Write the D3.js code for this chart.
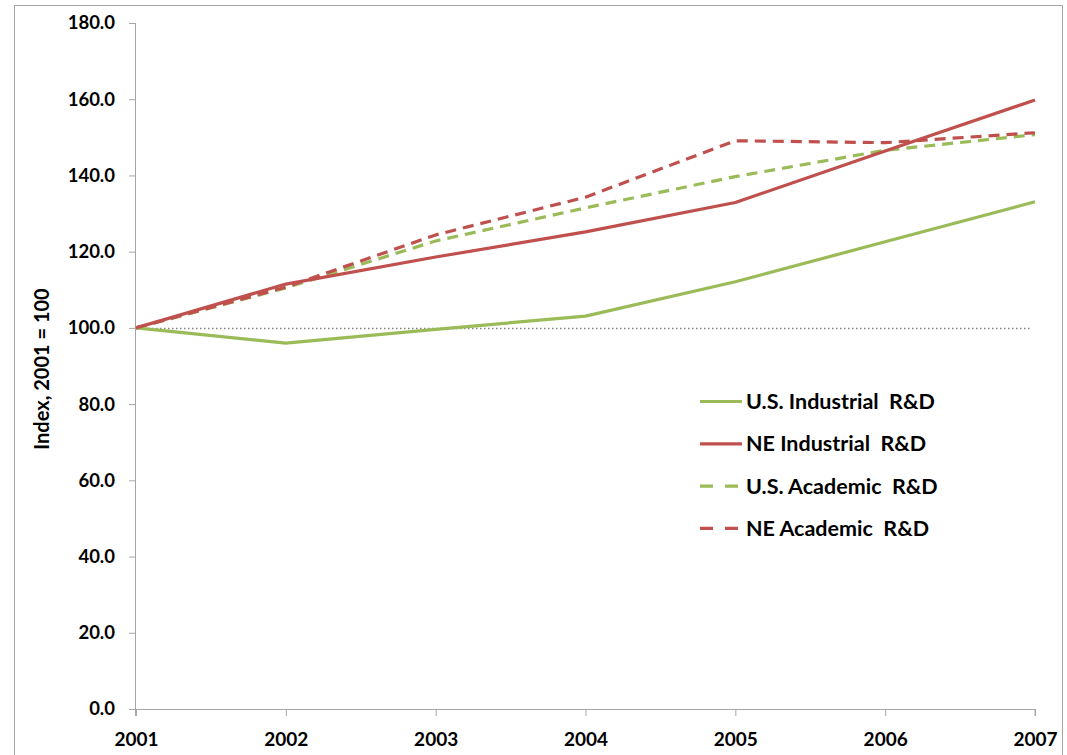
<!DOCTYPE html>
<html>
<head>
<meta charset="utf-8">
<script src="https://cdn.jsdelivr.net/npm/d3@7"></script>
<style>
  body { margin: 0; background: #fff; }
  svg text { font-family: Lato, "Open Sans", sans-serif; font-weight: bold; fill: #000; white-space: pre; }
</style>
</head>
<body>
<svg width="1067" height="755"></svg>
<script>
// data
const years = ['2001', '2002', '2003', '2004', '2005', '2006', '2007'];
const usIndustrial = [100, 96.0, 99.6, 103.1, 112.1, 122.6, 133.1];
const neIndustrial = [100, 111.5, 118.6, 125.2, 132.9, 146.4, 159.8];
const usAcademic   = [100, 110.5, 122.8, 131.5, 139.7, 146.6, 150.7];
const neAcademic   = [100, 110.7, 124.4, 134.3, 149.1, 148.6, 151.2];
const yTicks = [0, 20, 40, 60, 80, 100, 120, 140, 160, 180];

const series = [
  {name: 'U.S. Industrial  R&D', values: usIndustrial, color: '#9bbb59', dash: null},
  {name: 'NE Industrial  R&D', values: neIndustrial, color: '#c0504d', dash: null},
  {name: 'U.S. Academic  R&D', values: usAcademic, color: '#9bbb59', dash: '11,7'},
  {name: 'NE Academic  R&D', values: neAcademic, color: '#c0504d', dash: '11,7'}
];

var svg = d3.select('svg'),
    margin = {top: 23, right: 32, bottom: 46, left: 136},
    width = 1067 - margin.left - margin.right,
    height = 755 - margin.top - margin.bottom;

// outer chart frame
svg.append('rect')
  .attr('x', 14.5).attr('y', 5.5)
  .attr('width', 1048).attr('height', 800)
  .attr('fill', 'none').attr('stroke', '#a6a6a6').attr('stroke-width', 1);

var g = svg.append('g').attr('transform', `translate(${margin.left}, ${margin.top})`);

var x = d3.scalePoint().domain(years).range([0, width]);
var y = d3.scaleLinear().domain([0, 180]).range([height, 0]);

// y axis
var yAxis = g.append('g')
  .call(d3.axisLeft(y).tickValues(yTicks).tickSize(7).tickPadding(14).tickFormat(d3.format('.1f')));
yAxis.select('.domain').attr('stroke', '#a6a6a6').attr('d', `M-0.5,${height + 7}V0.5H-7`);
yAxis.selectAll('line').attr('stroke', '#a6a6a6');
yAxis.selectAll('text').style('font-size', '18.5px');

// x axis
var xAxis = g.append('g')
  .attr('transform', `translate(0,${height})`)
  .call(d3.axisBottom(x).tickSize(7).tickPadding(17));
xAxis.select('.domain').attr('stroke', '#a6a6a6').attr('d', `M0,0.5H${width}V7`);
xAxis.selectAll('line').attr('stroke', '#a6a6a6');
xAxis.selectAll('text').style('font-size', '19px');

// y label
svg.append('text')
  .attr('transform', `translate(49, ${margin.top + height / 2 + 3}) rotate(-90)`)
  .attr('text-anchor', 'middle')
  .style('font-size', '20px')
  .text('Index, 2001 = 100');

// reference line at 100
g.append('line')
  .attr('x1', 0).attr('x2', width - 3)
  .attr('y1', Math.round(y(100)) + 0.5).attr('y2', Math.round(y(100)) + 0.5)
  .attr('stroke', '#7f7f7f').attr('stroke-width', 1.5)
  .attr('stroke-dasharray', '1.5,2.5');

var line = d3.line()
  .x((d, i) => x(years[i]))
  .y(d => y(d));

// draw dashed first so solid lines sit on top like the reference
[series[2], series[3], series[0], series[1]].forEach(s => {
  g.append('path')
    .datum(s.values)
    .attr('fill', 'none')
    .attr('stroke', s.color)
    .attr('stroke-width', 3.2)
    .attr('stroke-linejoin', 'round')
    .attr('stroke-dasharray', s.dash)
    .attr('d', line);
});

// legend
var legend = svg.append('g').attr('transform', 'translate(700, 401.5)');
series.forEach((s, i) => {
  var row = legend.append('g').attr('transform', `translate(0, ${i * 42.3})`);
  row.append('line')
    .attr('x1', 0).attr('x2', 42).attr('y1', 0).attr('y2', 0)
    .attr('stroke', s.color).attr('stroke-width', 3.2)
    .attr('stroke-dasharray', s.dash ? '13,12' : null);
  row.append('text')
    .attr('x', 46).attr('y', 7.5)
    .style('font-size', '21.5px')
    .text(s.name);
});
</script>
</body>
</html>
